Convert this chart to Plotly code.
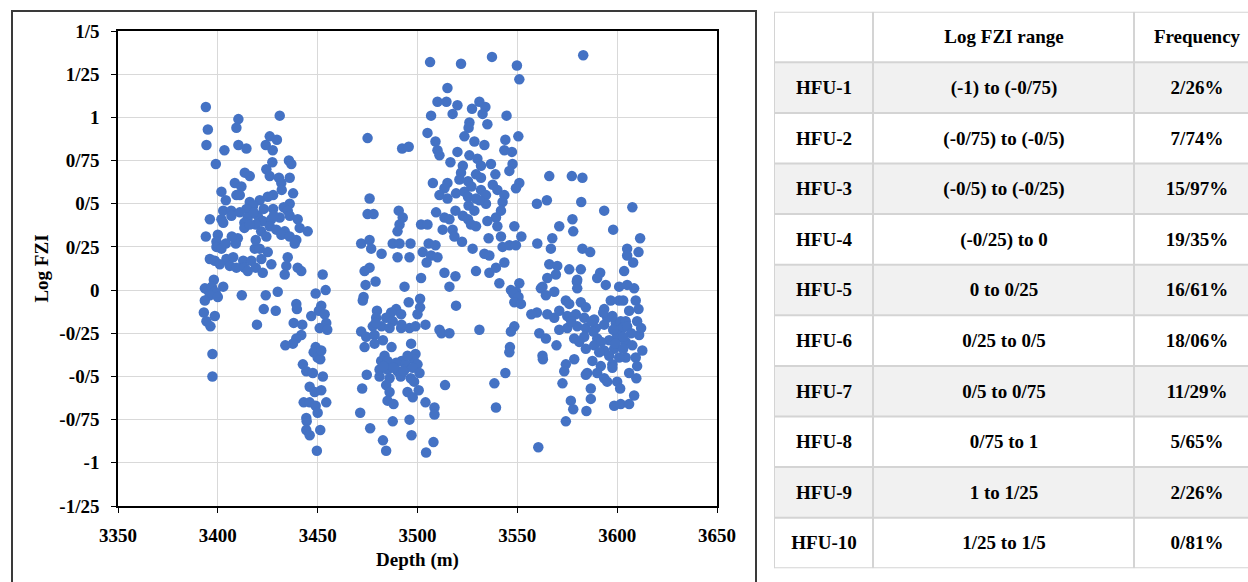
import plotly.graph_objects as go

# ---------------- scatter data (Depth in m, Log FZI) ----------------
depth_a = [3394,3410.3,3409.3,3431,3395,3394.3,3403.3,3410.3,3414.3,3426,3429.6,3424,3427.5,3399,3435.6,3436.8,
           3427.3,3424.3,3413.5,3416,3426,3430.6,3436,3431.8,3408.5,3411.8,3401.8,3437.7,3409.3,3411,3427.7,3425,
           3421,3416,3417.7,3436,3433,3414.3,3402.7,3406.7,3427.7,3435,3396,3401.8,3406.8,3411,3415,3420,3422.5,
           3426.8,3431,3436,3440,3402.7,3413.3,3419,3426,3413.3,3441,3445,3421.7,3429.3,3433.5,3424.3,3431.8,3436,
           3439.3,3438.5,3394,3400,3399.3,3410,3409,3399.3,3401.8,3418.5,3421,3425,3396,3398.5,3404.3,3407.7,
           3412.7,3416.8,3421.8,3426.8,3435,3434.3,3406,3409.3,3413.3,3415,3419,3401,3440,3441.8,3422.5,3433.5,
           3452.5,3454,3398,3393.5,3402.7,3430,3449,3395,3397,3399,
           3398.5,3396,3400,3393.5,3412,3424,3423,3429,3439.3,3439.6,3451.8,3450.6,3453.5,3446.8,3454.3,3451,
           3454.8,3393,3398.5,3394.3,3396.3,3419.6,3438,3442.3,3441.8,3439.3,3437.6,3433.8,3397.3,3397.3,3449,
           3448,3450,3451.3,3451.8,3442.6,3444.3,3447.6,3452.6,3446,3448.5,3451.8,3443,3446,3449,3454.3,3450,
           3444.3,3444.5,3444.3,3446,3451.3,3449.6,
           3418,3423,3416,3428,3404,3419,3407,3432,3404]
fzi_a = [1.06,0.99,0.94,1.01,0.93,0.84,0.81,0.84,0.82,0.89,0.87,0.84,0.81,0.73,0.75,0.73,
         0.74,0.70,0.68,0.66,0.66,0.65,0.65,0.62,0.62,0.60,0.57,0.56,0.55,0.55,0.55,0.54,
         0.52,0.51,0.49,0.50,0.48,0.47,0.46,0.46,0.47,0.46,0.41,0.41,0.43,0.45,0.42,0.43,0.40,
         0.41,0.42,0.43,0.41,0.39,0.39,0.38,0.37,0.36,0.36,0.34,0.34,0.35,0.34,0.31,0.32,0.31,
         0.29,0.27,0.31,0.32,0.28,0.30,0.27,0.25,0.24,0.24,0.24,0.22,0.18,0.17,0.18,0.19,
         0.17,0.17,0.18,0.15,0.19,0.14,0.14,0.13,0.13,0.11,0.13,0.15,0.13,0.11,0.10,0.09,
         0.09,0.00,0.06,0.01,0.02,-0.01,-0.02,0.00,0.02,-0.02,
         -0.01,-0.03,-0.04,-0.06,-0.03,-0.03,-0.11,-0.12,-0.08,-0.11,-0.09,-0.12,-0.14,-0.15,-0.19,-0.22,
         -0.23,-0.13,-0.15,-0.18,-0.21,-0.20,-0.19,-0.20,-0.26,-0.28,-0.31,-0.32,-0.37,-0.50,-0.33,
         -0.36,-0.39,-0.40,-0.35,-0.43,-0.47,-0.48,-0.50,-0.56,-0.59,-0.58,-0.65,-0.65,-0.67,-0.65,-0.71,
         -0.74,-0.76,-0.81,-0.84,-0.81,-0.93,
         0.45,0.47,0.38,0.43,0.27,0.29,0.31,0.58,0.52]

depth_b = [3506.3,3521.8,3537.3,3549.8,3551,3515,3510,3514.5,3520,3531,3527.3,3534,3506.8,3517.6,3532.6,3544.6,
           3526,3535,3525.6,3475,3505,3509,3523.5,3528.5,3533.5,3544,3550.5,3492.3,3495.6,3510,3511,3520,
           3543.5,3547.3,3526,3530,3516.5,3522.7,3531.8,3536.8,3547.6,3521.8,3529.3,3539,3546,3531.8,3521,
           3507.7,3515,3525.3,3551,3537.7,3513.5,3549.3,3531.8,3540,3519.3,3523.5,3511,3515,3525.3,3529.3,
           3534.3,3543.5,3476,3525.6,3534.3,3542.6,3475,3478,3490.6,3492.6,3491,3490,3509.3,3513.5,3516,
           3522.7,3528.5,3525.3,3539.3,3541.8,3501.8,3505,3526.8,3529.3,3540,3548.5,3512.6,3517.6,3518.5,
           3522.3,3552,3535.6,3541.8,3471.8,3476,3476.8,3487.6,3491,3496.5,3505.6,3509,3527.6,3542.6,3546,
           3549.3,3482,3490,3496,3502.6,3506.8,3504.6,3510,3533.5,3536,3543.5,3476,3473.5,3474,3479,3493.5,
           3501.8,3513.5,3519,3529.3,3536,3539.3,3541,3516,3551,3546.8,3549.3,
           3473,3472.6,3501.3,3495.6,3501.3,3519.3,3548,3550.6,3548.5,3551.8,3479.7,3479.3,3489.3,3486.8,
           3491.8,3500,3484.3,3487.6,3477.6,3482,3486,3491.8,3496,3499,3504,3471.8,3474.3,3478.5,3511,3512,
           3516,3531,3548.5,3546.8,3473.5,3478.5,3482.7,3487,3496.8,3546.3,3546,3483.5,3481.8,3485,3492,
           3499,3498,3489.3,3494,3500,3481,3485,3490,3493.5,3497.6,3501,3474.6,3481,3486,3491.6,3496.6,
           3498.3,3484.3,3472.3,3486,3495,3500.6,3497.6,3513.8,3538.5,3544,3485,3488,3504,3508.5,3508.5,
           3539.3,3471.3,3487.6,3496,3476.3,3497,3482.7,3508,3484.3,3504.3,
           3527,3531,3519,3535,3493,3488,3483,3495,3479,3492]
fzi_b = [1.32,1.31,1.35,1.30,1.22,1.17,1.09,1.09,1.07,1.09,1.05,1.06,1.01,1.02,1.02,1.01,
         0.97,0.96,0.94,0.88,0.91,0.86,0.89,0.86,0.84,0.87,0.89,0.82,0.83,0.81,0.78,0.80,
         0.81,0.80,0.78,0.76,0.74,0.72,0.72,0.73,0.73,0.68,0.67,0.67,0.69,0.65,0.64,
         0.62,0.62,0.63,0.62,0.61,0.59,0.59,0.58,0.58,0.56,0.57,0.55,0.53,0.54,0.53,
         0.55,0.55,0.53,0.49,0.50,0.51,0.44,0.44,0.46,0.42,0.38,0.34,0.45,0.42,0.41,
         0.43,0.46,0.41,0.42,0.46,0.38,0.38,0.38,0.37,0.37,0.37,0.35,0.35,0.31,
         0.28,0.31,0.30,0.31,0.27,0.29,0.24,0.27,0.27,0.27,0.27,0.26,0.24,0.25,0.26,
         0.26,0.21,0.19,0.19,0.22,0.20,0.16,0.19,0.21,0.20,0.16,0.13,0.11,0.03,0.05,0.02,
         0.07,0.10,0.08,0.11,0.10,0.13,0.04,0.02,0.04,0.00,-0.01,
         -0.04,-0.06,-0.05,-0.07,-0.10,-0.09,-0.02,-0.04,-0.07,-0.08,-0.12,-0.16,-0.11,-0.13,
         -0.14,-0.14,-0.16,-0.18,-0.21,-0.21,-0.22,-0.22,-0.22,-0.21,-0.20,-0.24,-0.27,-0.26,-0.23,-0.25,
         -0.25,-0.23,-0.21,-0.24,-0.33,-0.31,-0.29,-0.33,-0.31,-0.33,-0.36,-0.38,-0.41,-0.41,-0.41,
         -0.37,-0.40,-0.42,-0.43,-0.43,-0.46,-0.46,-0.47,-0.46,-0.45,-0.48,-0.49,-0.50,-0.51,-0.50,-0.51,
         -0.53,-0.55,-0.57,-0.59,-0.59,-0.58,-0.62,-0.55,-0.54,-0.48,-0.64,-0.66,-0.65,-0.68,-0.72,
         -0.68,-0.71,-0.76,-0.75,-0.80,-0.84,-0.87,-0.88,-0.93,-0.94,
         0.60,0.52,0.46,0.40,-0.47,-0.45,-0.44,-0.38,-0.19,-0.20]

depth_c = [3583,3566,3577.3,3582.6,3559.8,3564.8,3582,3593.5,3577.6,3571,3578,3598,3560,3567.5,3566.8,3582.6,
           3586.5,3566,3570,3576,3581.8,3569.3,3565,3591.5,3590,3579.8,3580,3594.3,3601,3562.6,3568.5,
           3607.6,3611.5,3605,3610.7,3605,3608,3603.5,3605,3608.5,3580,
           3561.8,3564.3,3574.3,3581.8,3584.3,3596.8,3593.5,3601,3559.8,3565,3568.5,3575,3579.3,3583.5,
           3588.5,3595,3599.3,3601.8,3561,3564.3,3571,3575,3580,3584.3,3589.3,3593.5,3578.5,3583.5,3590,
           3596,3600,3569.6,3584.3,3588.5,3593.5,3598.5,3562.6,3562.8,3578.5,3574.3,3587.6,3591.8,3597.6,
           3573.5,3585,3590,3593.5,3595,3572.6,3584.3,3600,3601.5,3586.8,3586.8,3576.8,3578,3584.6,3598.5,
           3601.8,3574.3,3560.5,
           3609.3,3610.7,3603,3593,3597.6,3604.3,3610,3602.6,3605,3611,3600,3599.3,3604.3,3607.6,3612.6,
           3604.3,3609.3,3597.6,3601,3609.6,3608.5,3606,
           3606,3612,3607,3603,3610,3606,3596,3591,3587,3577,3571,3557,
           3588,3592,3603,3581,3576,3598]
fzi_c = [1.36,0.66,0.66,0.65,0.50,0.52,0.51,0.46,0.41,0.37,0.34,0.35,0.27,0.30,0.24,0.24,
         0.22,0.15,0.14,0.12,0.12,0.09,0.07,0.10,0.07,0.05,0.01,0.03,0.02,0.02,-0.01,
         0.48,0.30,0.24,0.22,0.20,0.16,0.11,0.03,0.01,0.06,
         0.01,-0.03,-0.06,-0.07,-0.10,-0.06,-0.11,-0.06,-0.13,-0.14,-0.16,-0.15,-0.14,-0.16,
         -0.17,-0.16,-0.19,-0.18,-0.25,-0.28,-0.23,-0.22,-0.21,-0.22,-0.22,-0.20,-0.28,-0.27,-0.28,
         -0.29,-0.28,-0.32,-0.34,-0.32,-0.35,-0.34,-0.38,-0.40,-0.40,-0.43,-0.41,-0.44,-0.43,
         -0.47,-0.48,-0.48,-0.51,-0.53,-0.54,-0.49,-0.53,-0.57,-0.57,-0.63,-0.64,-0.69,-0.70,-0.67,
         -0.66,-0.76,-0.91,
         -0.06,-0.11,-0.06,-0.13,-0.15,-0.18,-0.18,-0.22,-0.21,-0.26,-0.26,-0.31,-0.30,-0.32,-0.35,
         -0.39,-0.39,-0.45,-0.39,-0.51,-0.61,-0.66,
         -0.12,-0.22,-0.25,-0.34,-0.44,-0.48,-0.38,-0.36,-0.18,-0.18,-0.12,-0.14,
         -0.24,-0.30,-0.27,-0.30,-0.08,-0.23]

# ---------------- axis ticks ----------------
x_ticks = [3350, 3400, 3450, 3500, 3550, 3600, 3650]
y_ticks = [1.5, 1.25, 1, 0.75, 0.5, 0.25, 0, -0.25, -0.5, -0.75, -1, -1.25]
y_tick_labels = ["1/5", "1/25", "1", "0/75", "0/5", "0/25", "0", "-0/25", "-0/5", "-0/75", "-1", "-1/25"]

# ---------------- table data ----------------
table_header = ["", "Log FZI range", "Frequency"]
hfu_names = ["HFU-1", "HFU-2", "HFU-3", "HFU-4", "HFU-5", "HFU-6", "HFU-7", "HFU-8", "HFU-9", "HFU-10"]
fzi_ranges = ["(-1) to (-0/75)", "(-0/75) to (-0/5)", "(-0/5) to (-0/25)", "(-0/25) to 0", "0 to 0/25",
              "0/25 to 0/5", "0/5 to 0/75", "0/75 to 1", "1 to 1/25", "1/25 to 1/5"]
frequencies = ["2/26%", "7/74%", "15/97%", "19/35%", "16/61%", "18/06%", "11/29%", "5/65%", "2/26%", "0/81%"]

W, H = 1248, 582
FONT = "Liberation Serif"
BLUE = "#4472C4"

depths = depth_a + depth_b + depth_c
fzis = fzi_a + fzi_b + fzi_c

fig = go.Figure()
fig.add_trace(go.Scatter(
    x=depths, y=fzis, mode="markers",
    marker=dict(color=BLUE, size=10.5, line=dict(width=0)),
    xaxis="x", yaxis="y", hoverinfo="x+y", showlegend=False))

# table as heatmap grid on its own hidden axes
col_edges = [0, 99, 360, 485]
row_edges = list(range(len(hfu_names) + 2))
rows_text = [table_header] + [[a, b, c] for a, b, c in zip(hfu_names, fzi_ranges, frequencies)]
z = [[0, 0, 0]] + [[(i + 1) % 2] * 3 for i in range(len(hfu_names))]
fig.add_trace(go.Heatmap(
    x=col_edges, y=row_edges, z=z, text=rows_text,
    texttemplate="<b>%{text}</b>",
    textfont=dict(family=FONT, size=19, color="black"),
    colorscale=[[0, "#ffffff"], [1, "#f1f1f1"]], zmin=0, zmax=1,
    showscale=False, hoverinfo="skip", xaxis="x2", yaxis="y2"))

shapes = []
for xe in col_edges[:-1]:
    shapes.append(dict(type="line", xref="x2", yref="y2", x0=xe, x1=xe, y0=0, y1=row_edges[-1],
                       line=dict(color="#d4d4d4", width=2)))
for ye in row_edges:
    shapes.append(dict(type="line", xref="x2", yref="y2", x0=0, x1=col_edges[-1], y0=ye, y1=ye,
                       line=dict(color="#d4d4d4", width=2)))
# outer frame around the chart
shapes.append(dict(type="rect", xref="paper", yref="paper",
                   x0=12 / W, x1=756 / W, y0=-0.05, y1=(H - 11) / H,
                   line=dict(color="#3a3a3a", width=2), fillcolor="rgba(0,0,0,0)", layer="above"))

axis_font = dict(family=FONT, size=19, color="black", weight="bold")
title_font = dict(family=FONT, size=19, color="black", weight="bold")

fig.update_layout(
    width=W, height=H, margin=dict(l=0, r=0, t=0, b=0, autoexpand=False),
    paper_bgcolor="white", plot_bgcolor="white",
    xaxis=dict(domain=[118 / W, 717 / W], range=[3350, 3650], tickvals=x_ticks,
               showgrid=True, gridcolor="#d9d9d9", gridwidth=1, zeroline=False,
               showline=True, linecolor="black", linewidth=1.5, mirror=True,
               ticks="outside", ticklen=5, tickcolor="black", tickfont=axis_font,
               ticklabelstandoff=6, automargin=False,
               title=dict(text="Depth (m)", font=title_font, standoff=8), anchor="y"),
    yaxis=dict(domain=[(H - 506) / H, (H - 31) / H], range=[-1.25, 1.5], tickvals=y_ticks,
               ticktext=y_tick_labels,
               showgrid=True, gridcolor="#d9d9d9", gridwidth=1, zeroline=False,
               showline=True, linecolor="black", linewidth=1.5, mirror=True,
               ticks="outside", ticklen=5, tickcolor="black", tickfont=axis_font,
               ticklabelstandoff=8, automargin=False,
               title=dict(text="Log FZI", font=title_font, standoff=6), anchor="x"),
    xaxis2=dict(domain=[774 / W, 1.0], range=[0, 474], visible=False, fixedrange=True,
                anchor="y2", automargin=False),
    yaxis2=dict(domain=[(H - 568.3) / H, (H - 11.7) / H], range=[row_edges[-1], 0], visible=False,
                fixedrange=True, anchor="x2", automargin=False),
    shapes=shapes,
)

fig.write_html("out.html")
